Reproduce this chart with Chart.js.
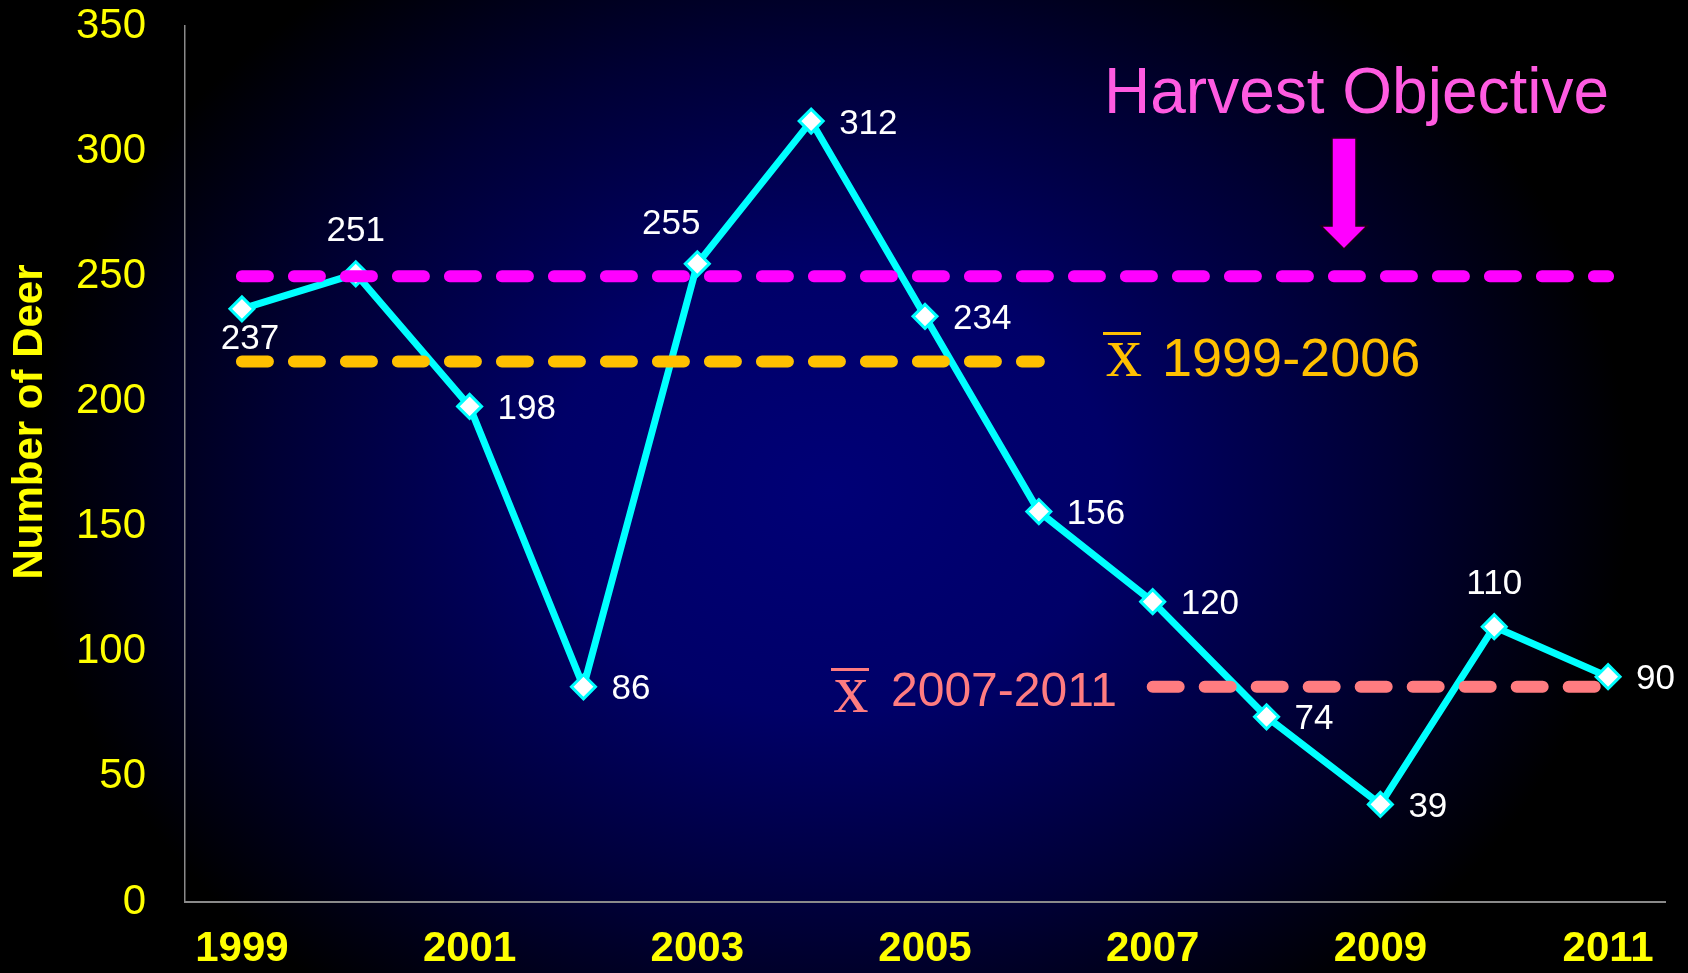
<!DOCTYPE html>
<html>
<head>
<meta charset="utf-8">
<script src="https://cdn.jsdelivr.net/npm/chart.js@4/dist/chart.umd.min.js"></script>
<style>
  html, body { margin: 0; padding: 0; }
  body {
    width: 1688px; height: 973px; overflow: hidden;
    background: radial-gradient(ellipse 800px 640px at 830px 490px, #000076 0%, #000068 35%, #000034 70%, #000000 100%);
  }
  canvas { display: block; }
</style>
</head>
<body>
<canvas id="myChart" width="1688" height="973"></canvas>
<script>
// deer harvest per year
var years = ['1999', '2000', '2001', '2002', '2003', '2004', '2005', '2006', '2007', '2008', '2009', '2010', '2011'];
var deer = [237, 251, 198, 86, 255, 312, 234, 156, 120, 74, 39, 110, 90];
var labelSide = ['below', 'above', 'right', 'right', 'aboveLeft', 'right', 'right', 'right', 'right', 'right', 'right', 'above', 'right'];

var harvestObjective = 250;
var mean1999to2006 = 216;
var mean2007to2011 = 86;

var yMin = 0;
var yMax = 350;
var yStep = 50;

// reference lines, built from the values above
var harvestLine = years.map(function () { return harvestObjective; });
var meanLineA = years.map(function (y, i) { return i <= 7 ? mean1999to2006 : null; });
var meanLineB = years.map(function (y, i) { return i >= 8 ? mean2007to2011 : null; });

var YELLOW = '#FFFF00';
var FONT = '"Liberation Sans", Arial, sans-serif';

var labelOffsets = {
  right: [28, 3, 'left'],
  above: [0, -42, 'center'],
  below: [8, 31, 'center'],
  aboveLeft: [-26, -39, 'center']
};

const pointLabels = {
  id: 'pointLabels',
  afterDatasetsDraw(chart) {
    var ctx = chart.ctx;
    var meta = chart.getDatasetMeta(3);
    ctx.save();
    ctx.font = '35px ' + FONT;
    ctx.fillStyle = '#FFFFFF';
    ctx.textBaseline = 'middle';
    meta.data.forEach(function (pt, i) {
      var o = labelOffsets[labelSide[i]];
      ctx.textAlign = o[2];
      ctx.fillText(String(deer[i]), pt.x + o[0], pt.y + o[1]);
    });
    ctx.restore();
  }
};

const annotations = {
  id: 'annotations',
  afterDraw(chart) {
    var ctx = chart.ctx;
    ctx.save();

    // y axis title
    ctx.translate(30, 422);
    ctx.rotate(-Math.PI / 2);
    ctx.font = 'bold 42px ' + FONT;
    ctx.fillStyle = YELLOW;
    ctx.textAlign = 'center';
    ctx.textBaseline = 'middle';
    ctx.fillText('Number of Deer', 0, 0);
    ctx.setTransform(1, 0, 0, 1, 0, 0);

    // Harvest Objective + arrow
    ctx.font = '64px ' + FONT;
    ctx.fillStyle = '#FF5BE1';
    ctx.textAlign = 'left';
    ctx.textBaseline = 'alphabetic';
    ctx.fillText('Harvest Objective', 1104, 113);

    ctx.beginPath();
    ctx.moveTo(1332, 138);
    ctx.lineTo(1356, 138);
    ctx.lineTo(1356, 226);
    ctx.lineTo(1367, 226);
    ctx.lineTo(1344, 249);
    ctx.lineTo(1321, 226);
    ctx.lineTo(1332, 226);
    ctx.closePath();
    ctx.fillStyle = '#FF00FF';
    ctx.fill();
    ctx.lineWidth = 1.5;
    ctx.strokeStyle = '#1a0014';
    ctx.stroke();

    // x-bar 1999-2006
    ctx.fillStyle = '#FFC000';
    ctx.fillRect(1103, 332, 38, 3);
    ctx.font = '72px "Liberation Serif", "Times New Roman", serif';
    ctx.textAlign = 'center';
    ctx.fillText('x', 1124, 376);
    ctx.font = '54px ' + FONT;
    ctx.textAlign = 'left';
    ctx.fillText('1999-2006', 1162, 376);

    // x-bar 2007-2011
    ctx.fillStyle = '#FF7C80';
    ctx.fillRect(831, 668, 38, 3);
    ctx.font = '70px "Liberation Serif", "Times New Roman", serif';
    ctx.textAlign = 'center';
    ctx.fillText('x', 851, 712);
    ctx.font = '48px ' + FONT;
    ctx.textAlign = 'left';
    ctx.fillText('2007-2011', 891, 706);

    ctx.restore();
  }
};

var dashed = {
  borderDash: [26, 26],
  borderCapStyle: 'round',
  borderWidth: 12,
  pointRadius: 0,
  pointHoverRadius: 0,
  fill: false,
  spanGaps: false,
  order: 0
};

const data = {
  labels: years,
  datasets: [
    Object.assign({ label: 'Harvest Objective', data: harvestLine, borderColor: '#FF00FF' }, dashed),
    Object.assign({ label: 'Mean 1999-2006', data: meanLineA, borderColor: '#FFC000' }, dashed),
    Object.assign({ label: 'Mean 2007-2011', data: meanLineB, borderColor: '#FF7C80' }, dashed),
    {
      label: 'Number of Deer',
      data: deer,
      borderColor: '#00FFFF',
      borderWidth: 7,
      tension: 0,
      fill: false,
      pointStyle: 'rectRot',
      pointRadius: 12,
      pointBackgroundColor: '#FFFFFF',
      pointBorderColor: '#00FFFF',
      pointBorderWidth: 3,
      order: 1
    }
  ]
};

const config = {
  type: 'line',
  data: data,
  options: {
    responsive: false,
    animation: false,
    layout: { padding: { top: 26, right: 23, left: 0, bottom: 0 } },
    plugins: {
      legend: { display: false },
      tooltip: { enabled: false }
    },
    scales: {
      x: {
        offset: true,
        grid: { display: false, drawTicks: false },
        border: { display: true, color: '#8a8a8a', width: 2 },
        ticks: {
          color: YELLOW,
          font: { family: FONT, size: 42, weight: 'bold' },
          padding: 22,
          autoSkip: false,
          maxRotation: 0,
          callback: function (val, i) { return i % 2 === 0 ? this.getLabelForValue(val) : ''; }
        },
        afterFit: function (s) { s.height = 71; s.paddingLeft = 0; s.paddingRight = 0; }
      },
      y: {
        min: yMin,
        max: yMax,
        grid: { display: false, drawTicks: false },
        border: { display: true, color: '#8a8a8a', width: 1.5 },
        ticks: {
          stepSize: yStep,
          color: YELLOW,
          font: { family: FONT, size: 42 },
          padding: 39
        },
        afterFit: function (s) { s.width = 185; s.paddingTop = 0; s.paddingBottom = 0; }
      }
    }
  },
  plugins: [pointLabels, annotations]
};

const myChart = new Chart(document.getElementById('myChart'), config);
</script>
</body>
</html>
